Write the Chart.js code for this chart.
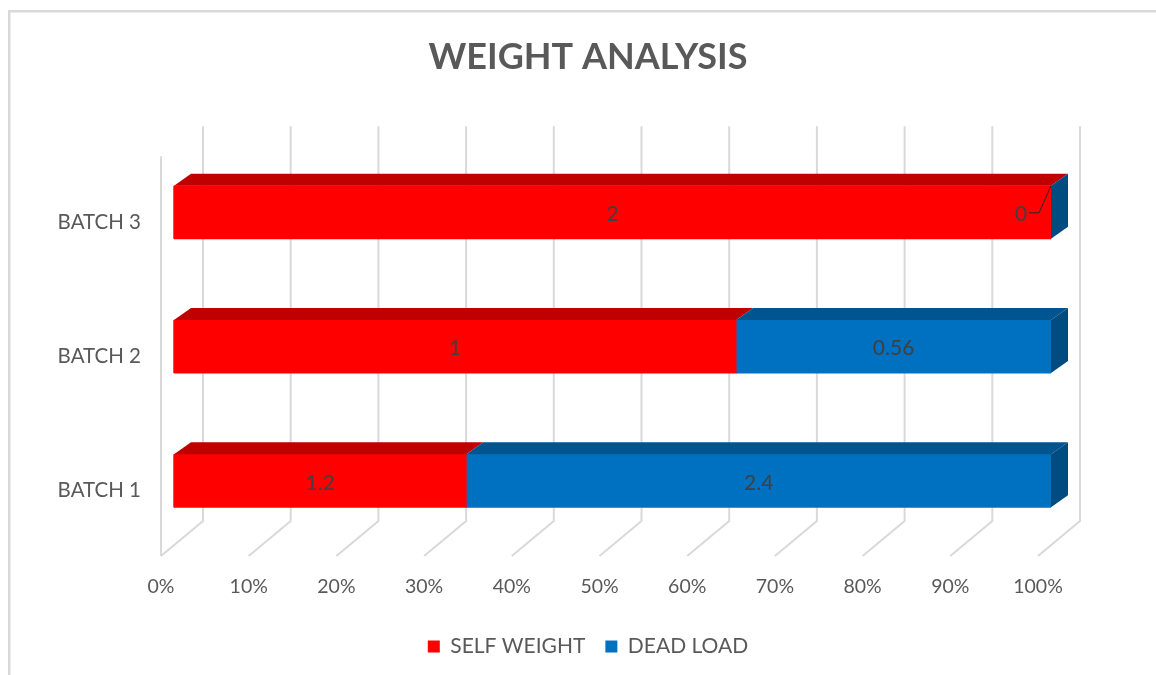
<!DOCTYPE html>
<html>
<head>
<meta charset="utf-8">
<script src="https://cdn.jsdelivr.net/npm/chart.js@4.4.1/dist/chart.umd.min.js"></script>
<style>
  html, body { margin: 0; padding: 0; background: #fff; }
  #wrap { width: 1156px; height: 675px; }
</style>
</head>
<body>
<div id="wrap"><canvas id="chart" width="1156" height="675"></canvas></div>
<script>
const categories = ['BATCH 1', 'BATCH 2', 'BATCH 3'];
const selfWeight = [1.2, 1, 2];
const deadLoad = [2.4, 0.56, 0];
const xTicks = [0, 10, 20, 30, 40, 50, 60, 70, 80, 90, 100];

const rawSeries = [selfWeight, deadLoad];
const totals = categories.map((c, i) => selfWeight[i] + deadLoad[i]);
const pct = arr => arr.map((v, i) => v / totals[i] * 100);

const textGrey = '#595959';
const gridGrey = '#d9d9d9';

// 3d offsets (px)
const DEPTH_X = 17, DEPTH_Y = -12;
const WALL_X = 29, FLOOR_X = -13;

const frameBorder = {
  id: 'frameBorder',
  beforeDraw(chart) {
    const ctx = chart.ctx;
    ctx.save();
    ctx.fillStyle = '#fff';
    ctx.fillRect(0, 0, chart.width, chart.height);
    ctx.fillStyle = gridGrey;
    ctx.fillRect(8, 10, chart.width - 8, 2.5);
    ctx.fillRect(8, 10, 2.5, chart.height - 10);
    ctx.restore();
  }
};

// back wall + floor grid lines
const walls = {
  id: 'walls',
  beforeDatasetsDraw(chart) {
    const ctx = chart.ctx, area = chart.chartArea, xs = chart.scales.x;
    const wallTop = area.top - 19, wallBottom = area.bottom - 27;
    const floorFront = area.bottom + 8;
    ctx.save();
    ctx.strokeStyle = gridGrey;
    ctx.lineWidth = 2;
    ctx.beginPath();
    xTicks.forEach(v => {
      const px = xs.getPixelForValue(v);
      ctx.moveTo(px + WALL_X, wallTop);
      ctx.lineTo(px + WALL_X, wallBottom);
      ctx.lineTo(px + FLOOR_X, floorFront);
    });
    const x0 = xs.getPixelForValue(0) + FLOOR_X;
    ctx.moveTo(x0, area.top + 11);
    ctx.lineTo(x0, floorFront);
    ctx.stroke();
    ctx.restore();
  }
};

const topColors = ['#c00000', '#005490'];
const sideColor = '#004b80';

const bars3d = {
  id: 'bars3d',
  afterDatasetsDraw(chart) {
    const ctx = chart.ctx;
    ctx.save();
    chart.data.datasets.forEach((ds, di) => {
      const meta = chart.getDatasetMeta(di);
      meta.data.forEach(bar => {
        const p = bar.getProps(['x', 'y', 'base', 'height'], true);
        const top = p.y - p.height / 2;
        const x0 = Math.min(p.base, p.x), x1 = Math.max(p.base, p.x);
        if (x1 - x0 > 0.5) {
          ctx.fillStyle = topColors[di];
          ctx.beginPath();
          ctx.moveTo(x0, top);
          ctx.lineTo(x1, top);
          ctx.lineTo(x1 + DEPTH_X, top + DEPTH_Y);
          ctx.lineTo(x0 + DEPTH_X, top + DEPTH_Y);
          ctx.closePath();
          ctx.fill();
        }
        if (di === chart.data.datasets.length - 1) {
          ctx.fillStyle = sideColor;
          ctx.beginPath();
          ctx.moveTo(x1, top);
          ctx.lineTo(x1 + DEPTH_X, top + DEPTH_Y);
          ctx.lineTo(x1 + DEPTH_X, top + p.height + DEPTH_Y);
          ctx.lineTo(x1, top + p.height);
          ctx.closePath();
          ctx.fill();
        }
        if (di === 0) {
          ctx.strokeStyle = '#7f7f7f';
          ctx.lineWidth = 1;
          ctx.beginPath();
          ctx.moveTo(x0 - 0.5, top);
          ctx.lineTo(x0 - 0.5, top + p.height);
          ctx.stroke();
        }
      });
    });
    ctx.restore();
  },
  afterDraw(chart) {
    const ctx = chart.ctx;
    ctx.save();
    ctx.font = '21px Lato';
    ctx.fillStyle = '#404040';
    ctx.strokeStyle = '#262626';
    ctx.lineWidth = 1;
    ctx.textAlign = 'center';
    ctx.textBaseline = 'middle';
    chart.data.datasets.forEach((ds, di) => {
      const meta = chart.getDatasetMeta(di);
      meta.data.forEach((bar, i) => {
        const p = bar.getProps(['x', 'y', 'base', 'height'], true);
        const val = rawSeries[di][i];
        if (val === 0) {
          const top = p.y - p.height / 2;
          ctx.fillText(String(val), p.x - 30, p.y + 2);
          ctx.beginPath();
          ctx.moveTo(p.x - 22, p.y + 0.5);
          ctx.lineTo(p.x - 12, p.y + 0.5);
          ctx.lineTo(p.x, top);
          ctx.stroke();
        } else {
          ctx.fillText(String(val), (p.x + p.base) / 2, p.y + 2);
        }
      });
    });
    ctx.restore();
  }
};

new Chart(document.getElementById('chart'), {
  type: 'bar',
  data: {
    labels: categories,
    datasets: [
      { label: 'SELF WEIGHT', data: pct(selfWeight), backgroundColor: '#ff0000' },
      { label: 'DEAD LOAD', data: pct(deadLoad), backgroundColor: '#0070c0' }
    ]
  },
  options: {
    indexAxis: 'y',
    responsive: false,
    animation: false,
    barThickness: 53,
    layout: { padding: { left: 20, right: 0, top: 0, bottom: 8 } },
    scales: {
      x: {
        stacked: true,
        min: 0,
        max: 100,
        border: { display: false },
        grid: { display: false, drawTicks: false },
        ticks: {
          stepSize: 10,
          padding: 27,
          labelOffset: -13,
          color: textGrey,
          font: { family: 'Lato', size: 19.5 },
          callback: v => v + '%'
        },
        afterFit(scale) { scale.height = 68; }
      },
      y: {
        stacked: true,
        reverse: true,
        border: { display: false },
        grid: { display: false, drawTicks: false },
        ticks: {
          padding: 33,
          labelOffset: 10,
          color: textGrey,
          font: { family: 'Lato', size: 20.5 }
        },
        afterFit(scale) { scale.width = 154; }
      },
      // empty right-hand axis that only reserves the space right of the plot
      yRight: {
        position: 'right',
        display: true,
        border: { display: false },
        grid: { display: false, drawTicks: false },
        ticks: { display: false },
        afterFit(scale) { scale.width = 105; }
      }
    },
    plugins: {
      title: {
        display: true,
        text: 'WEIGHT ANALYSIS',
        color: textGrey,
        font: { family: 'Lato', size: 36, weight: 'bold' },
        padding: { top: 36, bottom: 66 }
      },
      legend: {
        position: 'bottom',
        labels: {
          color: textGrey,
          font: { family: 'Lato', size: 21 },
          boxWidth: 12,
          boxHeight: 12,
          padding: 20
        }
      },
      tooltip: { enabled: false }
    }
  },
  plugins: [frameBorder, walls, bars3d]
});
</script>
</body>
</html>
